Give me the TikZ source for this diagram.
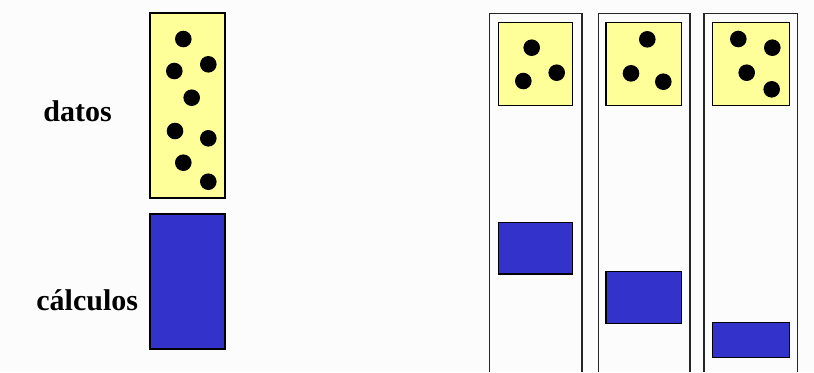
\documentclass[tikz,border=0pt]{standalone}
\usepackage{fontspec}
\setmainfont{Liberation Serif}
\usepackage{tikz}
\definecolor{datyellow}{HTML}{FFFF99}
\definecolor{calblue}{HTML}{3333CC}
\definecolor{bggray}{HTML}{FCFCFC}

\begin{document}
\begin{tikzpicture}[
  x=0.5pt, y=-0.5pt,
  datbox/.style={draw, line width=0.75pt, fill=datyellow},
  calbox/.style={draw, line width=0.75pt, fill=calblue},
  column/.style={draw, line width=0.8pt, black!85},
  dot/.style={fill=black},
  lbl/.style={anchor=base west, inner sep=0pt, font=\fontsize{15}{18}\selectfont\bfseries}
]
\useasboundingbox[fill=bggray] (0,0) rectangle (814,372);

% single process
\draw[datbox] (150,13) rectangle (225,198);
\draw[calbox] (150,214) rectangle (225,349);
\foreach \px/\py in {183.3/39, 208.3/64.3, 174.3/71, 191.7/97.7,
                     175/131, 208.3/138.3, 183.3/162.7, 208.3/181.7}
  \fill[dot] (\px,\py) circle (8.3);

% labels
\node[lbl] (datos) at (43,121.7) {datos};
\node[lbl] (calculos) at (36,310) {cálculos};

% three columns
\draw[column] (489.3,372) |- (581.7,13.3) -- (581.7,372);
\draw[column] (598.3,372) |- (690,13.3) -- (690,372);
\draw[column] (704,372) |- (797.3,13.3) -- (797.3,372);

% data blocks
\draw[datbox] (498.3,22.7) rectangle (572.7,105.7);
\draw[datbox] (606,22.7) rectangle (681.3,105.7);
\draw[datbox] (712.7,22.7) rectangle (789.3,105.7);
\foreach \px/\py in {531.7/47.7, 523.3/81, 556.7/72.7,
                     647.3/39.3, 631/73.3, 663.3/81.7,
                     738.3/39, 772.3/47.7, 746.7/72.7, 771.7/89.3}
  \fill[dot] (\px,\py) circle (8.3);

% computation blocks
\draw[calbox] (498.3,222.7) rectangle (572.7,274);
\draw[calbox] (606,271.7) rectangle (681.3,323.3);
\draw[calbox] (712.7,322.7) rectangle (789.3,357.3);
\end{tikzpicture}
\end{document}
